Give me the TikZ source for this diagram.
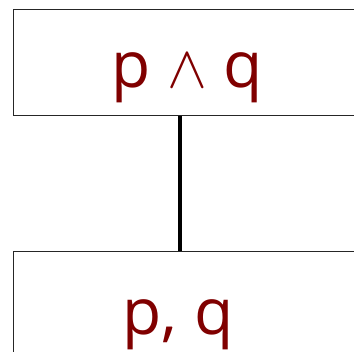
\documentclass[tikz,border=0pt]{standalone}
\usepackage{graphicx}
\usepackage{fontspec}
\setmainfont{Open Sans}
\definecolor{termred}{HTML}{800000}
\begin{document}
\begin{tikzpicture}[x=1pt,y=1pt]
\tikzset{cellbox/.style={draw=black!85,line width=1pt,minimum width=348pt,minimum height=106pt,inner sep=0pt},
  celltext/.style={text=termred,font=\fontsize{64}{64}\selectfont,anchor=base,inner sep=0pt}}
\useasboundingbox (0,0) rectangle (354,352);
\clip (0,0) rectangle (354,352);
\node[cellbox] (upper) at (187,289) {};
\node[cellbox] (lower) at (187,47) {};
\node[celltext] (uppertext) at (187,264) {p \scalebox{2.4}{$\wedge$} q};
\node[celltext] (lowertext) at (178,17) {p, q};
\draw[line width=4pt] ([xshift=-7pt]upper.south) -- ([xshift=-7pt]lower.north);
\end{tikzpicture}
\end{document}
